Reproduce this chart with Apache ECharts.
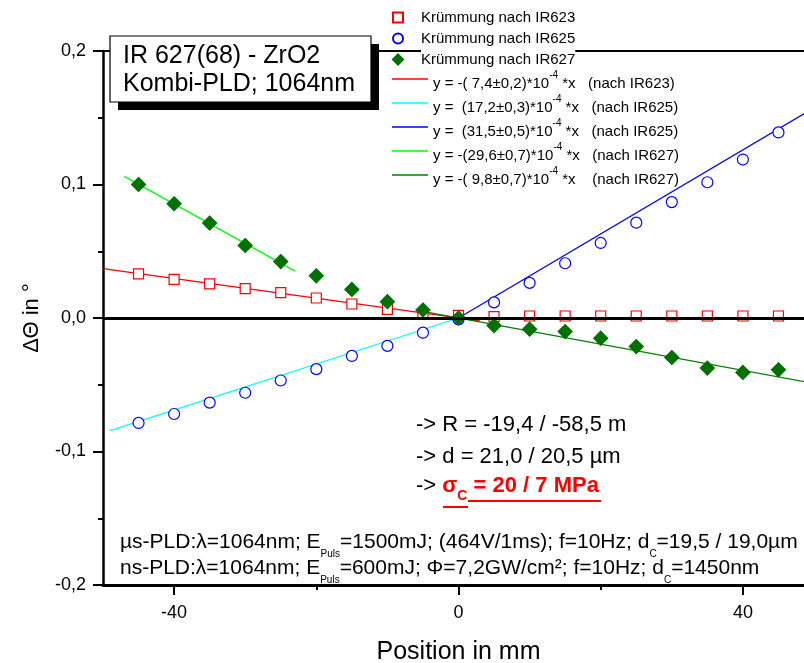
<!DOCTYPE html>
<html>
<head>
<meta charset="utf-8">
<script src="https://cdn.jsdelivr.net/npm/echarts@6/dist/echarts.min.js"></script>
<style>
  html, body { margin: 0; padding: 0; background: #fff; }
  #chart { width: 804px; height: 663px; }
</style>
</head>
<body>
<div id="chart"></div>
<script>
// Measurement positions along the sample (mm)
const positions = [-45, -40, -35, -30, -25, -20, -15, -10, -5, 0, 5, 10, 15, 20, 25, 30, 35, 40, 45];

// Curvature-derived tilt ΔΘ (°) for each reference
const curvIR623 = [0.033, 0.029, 0.0255, 0.022, 0.019, 0.015, 0.0105, 0.0065, 0.003, 0.002,
                   0.001, 0.0015, 0.0015, 0.0015, 0.0015, 0.0015, 0.0015, 0.0015, 0.0015];
const curvIR625 = [-0.0786, -0.0719, -0.0634, -0.056, -0.0468, -0.0383, -0.0284, -0.0209, -0.011, -0.001,
                   0.0117, 0.0263, 0.041, 0.0562, 0.0714, 0.0868, 0.1017, 0.1187, 0.139];
const curvIR627 = [0.100, 0.0856, 0.0711, 0.0543, 0.0423, 0.0316, 0.0214, 0.0122, 0.006, 0.0,
                   -0.0057, -0.0084, -0.0102, -0.0151, -0.0214, -0.0296, -0.0375, -0.0408, -0.0388];

const pointNames = ['Krümmung nach IR623', 'Krümmung nach IR625', 'Krümmung nach IR627'];

// Linear fits: slope in 10^-4 °/mm, offset in °, drawn range in mm
const fitNames = [
  'y = -( 7,4±0,2)*10^-4 *x   (nach IR623)',
  'y =  (17,2±0,3)*10^-4 *x   (nach IR625)',
  'y =  (31,5±0,5)*10^-4 *x   (nach IR625)',
  'y = -(29,6±0,7)*10^-4 *x   (nach IR627)',
  'y = -( 9,8±0,7)*10^-4 *x    (nach IR627)'
];
const fitSlopes  = [-7.4, 17.2, 31.5, -29.6, -9.8];
const fitOffsets = [0, 0, 0, -0.033, 0];
const fitStart   = [-50, -49, 0, -47, -6];
const fitEnd     = [3, 0, 50, -23, 50];

// Axis tick positions
const xMajorTicks = [-40, 0, 40];
const xMinorTicks = [-20, 20];

const FONT = '"Liberation Sans", Arial, sans-serif';
const fitColors = ['#ff0000', '#00ffff', '#0000ff', '#00ff00', '#008000'];

const markerStyles = [
  { symbol: 'rect', size: 10, stroke: '#ff0000', fill: '#ffffff', icon: 'path://M0,0H10V10H0Z' },
  { symbol: 'circle', size: 11, stroke: '#0000ff', fill: '#ffffff', icon: 'path://M5,0A5,5 0 1,1 5,10A5,5 0 1,1 5,0Z' },
  { symbol: 'diamond', size: 14, stroke: '#007000', fill: '#007000', icon: 'path://M5,0L10,5L5,10L0,5Z' }
];
const pointSets = [curvIR623, curvIR625, curvIR627];

const series = [];
fitNames.forEach((name, i) => {
  const f = x => fitSlopes[i] * 1e-4 * x + fitOffsets[i];
  const s = {
    type: 'line', name: name,
    data: [[fitStart[i], f(fitStart[i])], [fitEnd[i], f(fitEnd[i])]],
    symbol: 'none', silent: true, z: 2,
    lineStyle: { color: fitColors[i], width: 1.3 },
    itemStyle: { color: fitColors[i] }
  };
  if (i === 0) {
    s.markLine = {
      silent: true, symbol: ['none', 'none'], label: { show: false },
      lineStyle: { color: '#000', width: 3, type: 'solid' },
      data: [{ yAxis: 0 }]
    };
  }
  series.push(s);
});
pointNames.forEach((name, i) => {
  const st = markerStyles[i];
  series.push({
    type: 'scatter', name: name, z: 4, silent: true,
    symbol: st.symbol, symbolSize: st.size,
    itemStyle: { color: st.fill, borderColor: st.stroke, borderWidth: 1.2, opacity: 1 },
    data: positions.map((x, k) => [x, pointSets[i][k]])
  });
});

const subText = {
  n: { fontSize: 21, lineHeight: 22, padding: [0, 0, 6, 0], verticalAlign: 'bottom', fontFamily: FONT, fill: '#000' },
  u: { fontSize: 10, lineHeight: 12, verticalAlign: 'bottom', fontFamily: FONT, fill: '#000' }
};

const chart = echarts.init(document.getElementById('chart'));
chart.setOption({
  animation: false,
  backgroundColor: '#fff',
  textStyle: { fontFamily: FONT },
  grid: { left: 103, top: 51, width: 711, height: 534, containLabel: false, outerBoundsMode: 'none' },
  xAxis: [
    {
      type: 'value', min: -50, max: 50, position: 'bottom',
      axisLine: { show: true, onZero: false, lineStyle: { color: '#000', width: 3 } },
      axisTick: { show: true, customValues: xMajorTicks, length: 10, lineStyle: { color: '#000', width: 2 } },
      axisLabel: { customValues: xMajorTicks, margin: 19, fontSize: 18, color: '#000', fontFamily: FONT },
      splitLine: { show: false },
      name: 'Position in mm', nameLocation: 'middle', nameGap: 55,
      nameTextStyle: { fontSize: 25, color: '#000', fontFamily: FONT }
    },
    {
      type: 'value', min: -50, max: 50, position: 'bottom',
      axisLine: { show: false, onZero: false },
      axisTick: { show: true, customValues: xMinorTicks, length: 5, lineStyle: { color: '#000', width: 2 } },
      axisLabel: { show: false },
      splitLine: { show: false }
    },
    {
      type: 'value', min: -50, max: 50, position: 'top',
      axisLine: { show: true, onZero: false, lineStyle: { color: '#000', width: 2 } },
      axisTick: { show: false }, axisLabel: { show: false }, splitLine: { show: false }
    }
  ],
  yAxis: {
    type: 'value', min: -0.2, max: 0.2, interval: 0.1, position: 'left',
    axisLine: { show: true, onZero: false, lineStyle: { color: '#000', width: 2.5 } },
    axisTick: { show: true, length: 10, lineStyle: { color: '#000', width: 2 } },
    minorTick: { show: true, splitNumber: 2, length: 5, lineStyle: { color: '#000', width: 2 } },
    axisLabel: {
      margin: 17, fontSize: 18, color: '#000', fontFamily: FONT,
      formatter: v => v.toFixed(1).replace('.', ',')
    },
    splitLine: { show: false },
    name: 'ΔΘ in °', nameLocation: 'middle', nameGap: 60,
    nameTextStyle: { fontSize: 22, color: '#000', fontFamily: FONT }
  },
  legend: [
    {
      orient: 'vertical', left: 392, top: 7, padding: 0, itemGap: 0,
      itemWidth: 36, itemHeight: 10,
      data: pointNames.map((n, i) => ({ name: n, icon: markerStyles[i].icon })),
      textStyle: { fontSize: 15, lineHeight: 21, color: '#000', fontFamily: FONT, backgroundColor: '#fff' },
      selectedMode: false
    },
    {
      orient: 'vertical', left: 392, top: 67, padding: 0, itemGap: 0,
      itemWidth: 36, itemHeight: 14,
      data: fitNames.map(n => ({ name: n, icon: 'path://M0,0H36V1.3H0Z' })),
      formatter: name => '{t|' + name.replace('^-4', '}{s|-4}{t|') + '}',
      textStyle: {
        fontSize: 15, lineHeight: 24, color: '#000', fontFamily: FONT,
        rich: {
          t: { fontSize: 15, lineHeight: 24, verticalAlign: 'bottom', fontFamily: FONT },
          s: { fontSize: 10, lineHeight: 13, padding: [0, 0, 11, 0], verticalAlign: 'bottom', fontFamily: FONT }
        }
      },
      selectedMode: false
    }
  ],
  graphic: [
    // Sample label box with offset shadow
    { type: 'rect', z: 10, shape: { x: 118, y: 44, width: 261, height: 66 }, style: { fill: '#000' } },
    { type: 'rect', z: 10, shape: { x: 110, y: 36, width: 261, height: 66 }, style: { fill: '#fff', stroke: '#000', lineWidth: 1.2 } },
    { type: 'text', z: 11, style: { x: 123, y: 56, text: 'IR 627(68) - ZrO2', fontSize: 25, fontFamily: FONT, fill: '#000', verticalAlign: 'middle' } },
    { type: 'text', z: 11, style: { x: 123, y: 84, text: 'Kombi-PLD; 1064nm', fontSize: 25, fontFamily: FONT, fill: '#000', verticalAlign: 'middle' } },

    // Derived results
    { type: 'text', z: 11, style: { x: 416, y: 425, text: '-> R = -19,4 / -58,5 m', fontSize: 22, fontFamily: FONT, fill: '#000', verticalAlign: 'middle' } },
    { type: 'text', z: 11, style: { x: 416, y: 457, text: '-> d = 21,0 / 20,5 µm', fontSize: 22, fontFamily: FONT, fill: '#000', verticalAlign: 'middle' } },
    {
      type: 'text', z: 11,
      style: {
        x: 416, y: 491, verticalAlign: 'middle', fontFamily: FONT,
        text: '{a|-> }{b|σ}{c|C}{b| = 20 / 7 MPa}',
        rich: {
          a: { fontSize: 22, fill: '#000', lineHeight: 24, padding: [0, 0, 6, 0], verticalAlign: 'bottom', fontFamily: FONT },
          b: { fontSize: 22, fill: '#ff0000', fontWeight: 'bold', lineHeight: 24, padding: [0, 0, 6, 0], verticalAlign: 'bottom', fontFamily: FONT },
          c: { fontSize: 14, fill: '#ff0000', fontWeight: 'bold', lineHeight: 16, verticalAlign: 'bottom', fontFamily: FONT }
        }
      }
    },
    { type: 'rect', z: 11, shape: { x: 443, y: 506, width: 25, height: 2 }, style: { fill: '#ff0000' } },
    { type: 'rect', z: 11, shape: { x: 468, y: 500, width: 133, height: 2 }, style: { fill: '#ff0000' } },

    // Deposition parameters
    {
      type: 'text', z: 11,
      style: {
        x: 120, y: 548, verticalAlign: 'middle', fontFamily: FONT,
        text: '{n|µs-PLD:λ=1064nm; E}{u|Puls}{n|=1500mJ; (464V/1ms); f=10Hz; d}{u|C}{n|=19,5 / 19,0µm}',
        rich: subText
      }
    },
    {
      type: 'text', z: 11,
      style: {
        x: 120, y: 574, verticalAlign: 'middle', fontFamily: FONT,
        text: '{n|ns-PLD:λ=1064nm; E}{u|Puls}{n|=600mJ; Φ=7,2GW/cm²; f=10Hz; d}{u|C}{n|=1450nm}',
        rich: subText
      }
    }
  ],
  series: series
});
</script>
</body>
</html>
